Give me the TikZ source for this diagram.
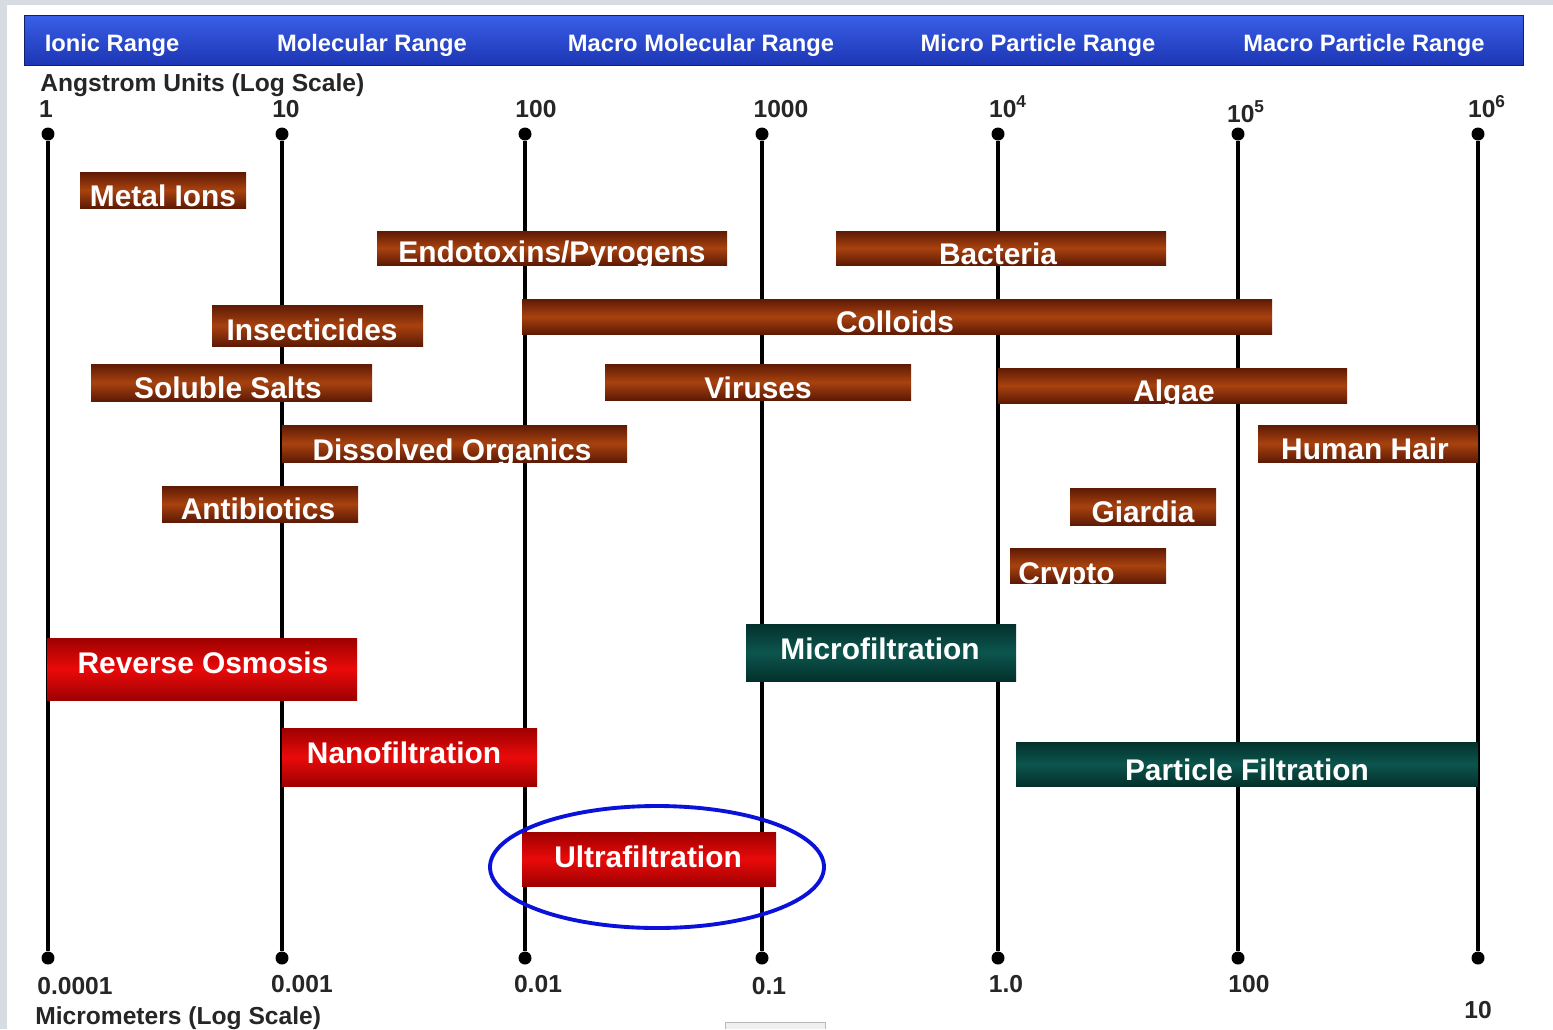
\documentclass[tikz,border=0pt]{standalone}
\usepackage{fontspec}
\setmainfont{Liberation Sans}
\usepackage{tikz}

\definecolor{pagegray}{HTML}{D7DBE2}
\definecolor{bandtop}{HTML}{3A5FE8}
\definecolor{bandbot}{HTML}{1C36B4}
\definecolor{browndk}{HTML}{5E1A05}
\definecolor{brownmd}{HTML}{A8420F}
\definecolor{reddk}{HTML}{9E0000}
\definecolor{redmd}{HTML}{EA0A0A}
\definecolor{tealdk}{HTML}{03302B}
\definecolor{tealmd}{HTML}{0C554E}
\definecolor{ringblue}{HTML}{0A12DA}

\begin{document}
\begin{tikzpicture}[x=0.02cm,y=-0.02cm,
  axisline/.style={line width=2.2pt},
  axisdot/.style={circle,fill=black,inner sep=0pt,minimum size=0.26cm},
  rangetxt/.style={text=white,font=\bfseries\fontsize{13.5}{16}\selectfont,anchor=base,inner sep=0pt},
  scaletxt/.style={text=black!85,font=\bfseries\fontsize{14}{16}\selectfont,anchor=base,inner sep=0pt},
  brownbar/.style={top color=browndk,bottom color=browndk,middle color=brownmd},
  redbar/.style={top color=reddk,bottom color=reddk,middle color=redmd},
  tealbar/.style={top color=tealdk,bottom color=tealdk,middle color=tealmd},
  bartxt/.style={text=white,font=\bfseries\fontsize{17}{20}\selectfont,anchor=base,inner sep=0pt}]

\fill[pagegray] (0,0) rectangle (1553,1029);
\fill[white] (7,5) rectangle (1553,1029);
\useasboundingbox (0,0) rectangle (1553,1029);

\path[top color=bandtop,bottom color=bandbot,draw=bandbot!60!black] (24,15) rectangle (1523,65);
\node[rangetxt] (ionic) at (112,51) {Ionic Range};
\node[rangetxt] (molecular) at (372,51) {Molecular Range};
\node[rangetxt] (macromol) at (701,51) {Macro Molecular Range};
\node[rangetxt] (micropart) at (1038,51) {Micro Particle Range};
\node[rangetxt] (macropart) at (1364,51) {Macro Particle Range};

\node[scaletxt,anchor=base west] (angstrom) at (40,91) {Angstrom Units (Log Scale)};
\node[scaletxt] (a1) at (46,117) {1};
\node[scaletxt] (a10) at (286,117) {10};
\node[scaletxt] (a100) at (536,117) {100};
\node[scaletxt] (a1000) at (781,117) {1000};
\node[scaletxt] (a4) at (1008,117) {10\textsuperscript{4}};
\node[scaletxt] (a5) at (1246,122) {10\textsuperscript{5}};
\node[scaletxt] (a6) at (1487,117) {10\textsuperscript{6}};

\node[axisdot] (t1) at (48,134) {};
\node[axisdot] (t2) at (282,134) {};
\node[axisdot] (t3) at (525,134) {};
\node[axisdot] (t4) at (762,134) {};
\node[axisdot] (t5) at (998,134) {};
\node[axisdot] (t6) at (1238,134) {};
\node[axisdot] (t7) at (1478,134) {};
\node[axisdot] (b1) at (48,958) {};
\node[axisdot] (b2) at (282,958) {};
\node[axisdot] (b3) at (525,958) {};
\node[axisdot] (b4) at (762,958) {};
\node[axisdot] (b5) at (998,958) {};
\node[axisdot] (b6) at (1238,958) {};
\node[axisdot] (b7) at (1478,958) {};
\draw[axisline] (t1) -- (b1);
\draw[axisline] (t2) -- (b2);
\draw[axisline] (t3) -- (b3);
\draw[axisline] (t4) -- (b4);
\draw[axisline] (t5) -- (b5);
\draw[axisline] (t6) -- (b6);
\draw[axisline] (t7) -- (b7);

\node[scaletxt] (m1) at (75,994) {0.0001};
\node[scaletxt] (m2) at (302,992) {0.001};
\node[scaletxt] (m3) at (538,992) {0.01};
\node[scaletxt] (m4) at (769,994) {0.1};
\node[scaletxt] (m5) at (1006,992) {1.0};
\node[scaletxt] (m6) at (1249,992) {100};
\node[scaletxt] (m7) at (1478,1018) {10};
\node[scaletxt,anchor=base west] (micrometer) at (35,1024) {Micrometers (Log Scale)};

\path[brownbar] (80,172) rectangle (246,208);
\node[bartxt] (metal) at (163,206) {Metal Ions};
\path[brownbar] (377,231) rectangle (727,265);
\node[bartxt] (endotox) at (552,262) {Endotoxins/Pyrogens};
\path[brownbar] (836,231) rectangle (1166,265);
\node[bartxt] (bacteria) at (998,264) {Bacteria};
\path[brownbar] (522,299) rectangle (1272,334);
\node[bartxt] (colloids) at (895,332) {Colloids};
\path[brownbar] (212,305) rectangle (423,346);
\node[bartxt] (insect) at (312,340) {Insecticides};
\path[brownbar] (91,364) rectangle (372,401);
\node[bartxt] (salts) at (228,398) {Soluble Salts};
\path[brownbar] (605,364) rectangle (911,400);
\node[bartxt] (viruses) at (758,398) {Viruses};
\path[brownbar] (998,368) rectangle (1347,403);
\node[bartxt] (algae) at (1174,401) {Algae};
\path[brownbar] (282,425) rectangle (627,462);
\node[bartxt] (organics) at (452,460) {Dissolved Organics};
\path[brownbar] (1258,425) rectangle (1478,462);
\node[bartxt] (hair) at (1365,459) {Human Hair};
\path[brownbar] (162,486) rectangle (358,522);
\node[bartxt] (antibio) at (258,519) {Antibiotics};
\path[brownbar] (1070,488) rectangle (1216,525);
\node[bartxt] (giardia) at (1143,522) {Giardia};
\path[brownbar] (1010,548) rectangle (1166,583);
\node[bartxt,anchor=base west] (crypto) at (1018,583) {Crypto};

\path[redbar] (47,638) rectangle (357,700);
\node[bartxt] (ro) at (203,673) {Reverse Osmosis};
\path[redbar] (282,728) rectangle (537,786);
\node[bartxt] (nano) at (404,763) {Nanofiltration};
\path[redbar] (522,832) rectangle (776,886);
\node[bartxt] (ultra) at (648,867) {Ultrafiltration};
\path[tealbar] (746,624) rectangle (1016,681);
\node[bartxt] (micro) at (880,659) {Microfiltration};
\path[tealbar] (1016,742) rectangle (1478,786);
\node[bartxt] (particle) at (1247,780) {Particle Filtration};

\draw[ringblue,line width=2.2pt] (657,867) ellipse [x radius=167,y radius=61];

\draw[gray!55,fill=gray!12] (725,1029) -- (725,1022) -- (825,1022) -- (825,1029);

\end{tikzpicture}
\end{document}
